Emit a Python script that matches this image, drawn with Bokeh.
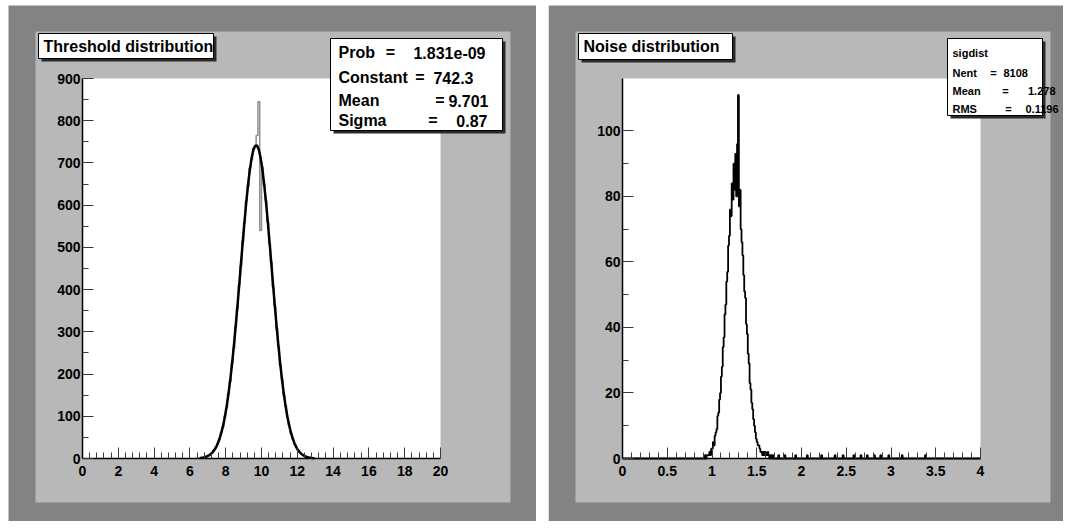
from bokeh.plotting import figure
from bokeh.models import Range1d, FixedTicker, BoxAnnotation, Label
from bokeh.layouts import row
from bokeh.embed import file_html
from bokeh.resources import INLINE

# ---------------- data ----------------
# Threshold distribution: histogram (bins of 0.1 starting at 6.5)
thr_bin_start = 6.5
thr_bin_width = 0.1
thr_counts = [1, 2, 2, 4, 5, 7, 11, 13, 20, 25, 36, 45, 62, 75, 100, 121, 154, 183,
              225, 261, 312, 355, 411, 457, 515, 558, 610, 645, 688, 708, 735, 740,
              765, 845, 540, 690, 648, 611, 560, 509, 465, 406, 361, 308, 266, 220,
              188, 150, 125, 97, 79, 59, 47, 34, 27, 19, 14, 10, 7, 5, 3, 2, 2, 1, 1]
# Gaussian fit curve read at bin centres (6.55, 6.65, ...)
fit_x_start = 6.55
fit_y = [1.05, 1.6, 2.4, 3.5, 5.0, 7.2, 10.1, 14.0, 19.3, 26.1, 35.0, 46.2, 60.1, 77.1,
         97.9, 122.6, 151.5, 184.7, 222.2, 264.0, 309.4, 357.8, 408.4, 460.2, 511.4,
         561.0, 607.4, 649.0, 684.3, 712.1, 731.2, 740.8, 741.1, 731.1, 712.2, 684.6,
         649.2, 607.9, 561.7, 511.9, 460.9, 409.2, 358.9, 310.2, 264.9, 223.1, 185.6,
         152.2, 122.9, 98.5, 77.7, 60.5, 46.4, 35.1, 26.3, 19.4, 14.1, 10.2, 7.2, 5.0,
         3.5, 2.4, 1.6, 1.05, 0.7]
thr_x_range = (0, 20)
thr_y_range = (0, 900)
thr_x_ticks = [0, 2, 4, 6, 8, 10, 12, 14, 16, 18, 20]
thr_y_ticks = [0, 100, 200, 300, 400, 500, 600, 700, 800, 900]
thr_title = "Threshold distribution"
thr_stats = [("Prob", "1.831e-09"), ("Constant", "742.3"), ("Mean", "9.701"), ("Sigma", "0.87")]

# Noise distribution: histogram (bins of 0.01 on 0..4)
noise_x_range = (0, 4)
noise_y_range = (0, 116)
noise_bin_width = 0.01
noise_peak_start = 0.90
noise_counts = [0, 0, 1, 0, 1, 1, 1, 2, 1, 3,
                3, 5, 4, 7, 8, 9, 13, 14, 18, 20,
                25, 28, 34, 37, 44, 47, 54, 57, 65, 68,
                76, 74, 84, 79, 90, 82, 93, 80, 96, 111,
                77, 82, 70, 66, 62, 56, 51, 49, 41, 38,
                32, 29, 23, 21, 17, 15, 12, 10, 8, 6,
                5, 4, 4, 3, 2, 2, 1, 2, 1, 2,
                1, 1, 2, 1, 0, 1, 1, 0, 1, 0]
noise_tail_x = [1.74, 1.81, 1.93, 2.06, 2.22, 2.37, 2.46, 2.58, 2.66, 2.73, 2.81, 2.88, 2.97, 3.12, 3.38]
noise_tail_counts = [1, 1, 1, 1, 1, 1, 1, 1, 1, 1, 1, 1, 1, 1, 1]
noise_x_ticks = [0, 0.5, 1, 1.5, 2, 2.5, 3, 3.5, 4]
noise_x_labels = ["0", "0.5", "1", "1.5", "2", "2.5", "3", "3.5", "4"]
noise_y_ticks = [0, 20, 40, 60, 80, 100]
noise_title = "Noise distribution"
noise_stats_name = "sigdist"
noise_stats = [("Nent", "8108"), ("Mean", "1.278"), ("RMS", "0.1196")]

# ---------------- style / geometry (canvas px) ----------------
DARK = "#838383"
LIGHT = "#b8b8b8"
FONT = "Liberation Sans"
H = 521
FY, FW, FH = 78, 358, 380           # white plotting area: top, width, height
DARK_Y0 = 5
PAD_Y0, PAD_Y1 = 31, 502


def minor_from(ticks, sub):
    out = []
    for a, b in zip(ticks[:-1], ticks[1:]):
        for k in range(1, sub):
            out.append(a + (b - a) * k / sub)
    return out


def box(p, l, r, t, b, fill, line=None, level="annotation", units="canvas"):
    p.add_layout(BoxAnnotation(left=l, right=r, top=t, bottom=b,
                               left_units=units, right_units=units,
                               top_units=units, bottom_units=units,
                               fill_color=fill, fill_alpha=1.0,
                               line_color=line if line else None,
                               line_alpha=1.0 if line else 0.0, line_width=1,
                               level=level))


def label(p, x, y, text, size="16px", align="left"):
    p.add_layout(Label(x=x, y=y, x_units="canvas", y_units="canvas", text=text,
                       text_font=FONT, text_font_style="bold", text_font_size=size,
                       text_align=align, text_baseline="middle", text_color="black"))


def make_panel(width, fx0, pad_x, dark_x, xr, yr, xt, xsub, yt, ysub):
    kx = FW / (xr[1] - xr[0])
    ky = FH / (yr[1] - yr[0])
    x_full = (xr[0] - fx0 / kx, xr[1] + (width - fx0 - FW) / kx)
    y_full = (yr[0] - (H - FY - FH) / ky, yr[1] + FY / ky)
    p = figure(width=width, height=H, frame_width=width, frame_height=H,
               x_range=Range1d(*x_full), y_range=Range1d(*y_full),
               min_border=0, min_border_left=0, min_border_right=0,
               min_border_top=0, min_border_bottom=0,
               output_backend="svg", toolbar_location=None)
    p.border_fill_color = "white"
    p.background_fill_color = "white"
    p.outline_line_color = None
    p.grid.visible = False
    # dark canvas, light grey pad, then white plotting area
    box(p, dark_x[0], dark_x[1], DARK_Y0, H, DARK, level="underlay")
    box(p, pad_x[0], pad_x[1], PAD_Y0, PAD_Y1, LIGHT, level="underlay")
    box(p, xr[0], xr[1], yr[1], yr[0], "white", level="underlay", units="data")
    p.xaxis.fixed_location = yr[0]
    p.yaxis.fixed_location = xr[0]
    p.xaxis.bounds = xr
    p.yaxis.bounds = yr
    p.xaxis.ticker = FixedTicker(ticks=xt, minor_ticks=minor_from(xt, xsub))
    p.yaxis.ticker = FixedTicker(ticks=yt, minor_ticks=minor_from(yt, ysub))
    for ax in (p.xaxis, p.yaxis):
        ax.axis_line_color = "black"
        ax.axis_line_width = 1.5
        ax.major_tick_in = 11
        ax.major_tick_out = 0
        ax.minor_tick_in = 6
        ax.minor_tick_out = 0
        ax.major_tick_line_color = "#3a3a3a"
        ax.minor_tick_line_color = "#3a3a3a"
        ax.major_label_text_font = FONT
        ax.major_label_text_font_style = "bold"
        ax.major_label_text_font_size = "14px"
        ax.major_label_text_color = "black"
    p.xaxis.major_label_standoff = 7
    p.yaxis.major_label_standoff = 2
    return p


def hist_outline(x0, w, counts):
    xs, ys = [x0], [0]
    for i, c in enumerate(counts):
        xs += [x0 + i * w, x0 + (i + 1) * w]
        ys += [c, c]
    xs.append(x0 + len(counts) * w)
    ys.append(0)
    return xs, ys


# ---------------- left panel ----------------
p1 = make_panel(536, 82, (35, 510), (8, 536), thr_x_range, thr_y_range,
                thr_x_ticks, 5, thr_y_ticks, 2)
hx, hy = hist_outline(thr_bin_start, thr_bin_width, thr_counts)
p1.line(hx, hy, line_color="#8f8f8f", line_width=1.5)
fx = [fit_x_start + i * thr_bin_width for i in range(len(fit_y))]
p1.line(fx, fit_y, line_color="black", line_width=2.5)

# title pave
box(p1, 41, 216, 36, 61, "#2a2a2a")
box(p1, 38, 213, 33, 58, "white", line="black")
label(p1, 43, 46, thr_title)
# stats pave
box(p1, 333, 505, 41, 133, "#2a2a2a")
box(p1, 330, 502, 38, 130, "white", line="black")
row_y = [52, 77, 100, 120]
eq_x = [390, 419.5, 439.5, 432.5]
val_x = [485, 473, 488, 487]
for (name, val), yy, ex, vx in zip(thr_stats, row_y, eq_x, val_x):
    label(p1, 338, yy, name)
    label(p1, ex, yy, "=", align="center")
    label(p1, vx, yy, val, align="right")

# ---------------- right panel ----------------
p2 = make_panel(515, 74, (27, 502), (0, 515), noise_x_range, noise_y_range,
                noise_x_ticks, 5, noise_y_ticks, 2)
p2.xaxis.major_label_overrides = {t: s for t, s in zip(noise_x_ticks, noise_x_labels)}
nbins = int(round((noise_x_range[1] - noise_x_range[0]) / noise_bin_width))
full = [0] * nbins
i0 = int(round((noise_peak_start - noise_x_range[0]) / noise_bin_width))
for k, c in enumerate(noise_counts):
    full[i0 + k] = c
for tx, tc in zip(noise_tail_x, noise_tail_counts):
    full[int(round((tx - noise_x_range[0]) / noise_bin_width))] = tc
nx, ny = hist_outline(noise_x_range[0], noise_bin_width, full)
p2.line(nx, ny, line_color="black", line_width=1.8)

box(p2, 33, 187, 36, 62, "#2a2a2a")
box(p2, 30, 184, 33, 59, "white", line="black")
label(p2, 35, 46, noise_title)
box(p2, 402, 497, 41, 118, "#2a2a2a")
box(p2, 399, 494, 38, 115, "white", line="black")
label(p2, 404, 52, noise_stats_name, size="11px")
row_y2 = [72, 90, 108]
eq_x2 = [445, 457, 460]
for (name, val), yy, ex in zip(noise_stats, row_y2, eq_x2):
    label(p2, 404, yy, name, size="11px")
    label(p2, ex, yy, "=", size="11px", align="center")
label(p2, 455, 72, noise_stats[0][1], size="11px", align="left")
label(p2, 507, 90, noise_stats[1][1], size="11px", align="right")
label(p2, 510, 108, noise_stats[2][1], size="11px", align="right")

layout = row(p1, p2, spacing=12)
open("out.html", "w").write(file_html(layout, INLINE))
